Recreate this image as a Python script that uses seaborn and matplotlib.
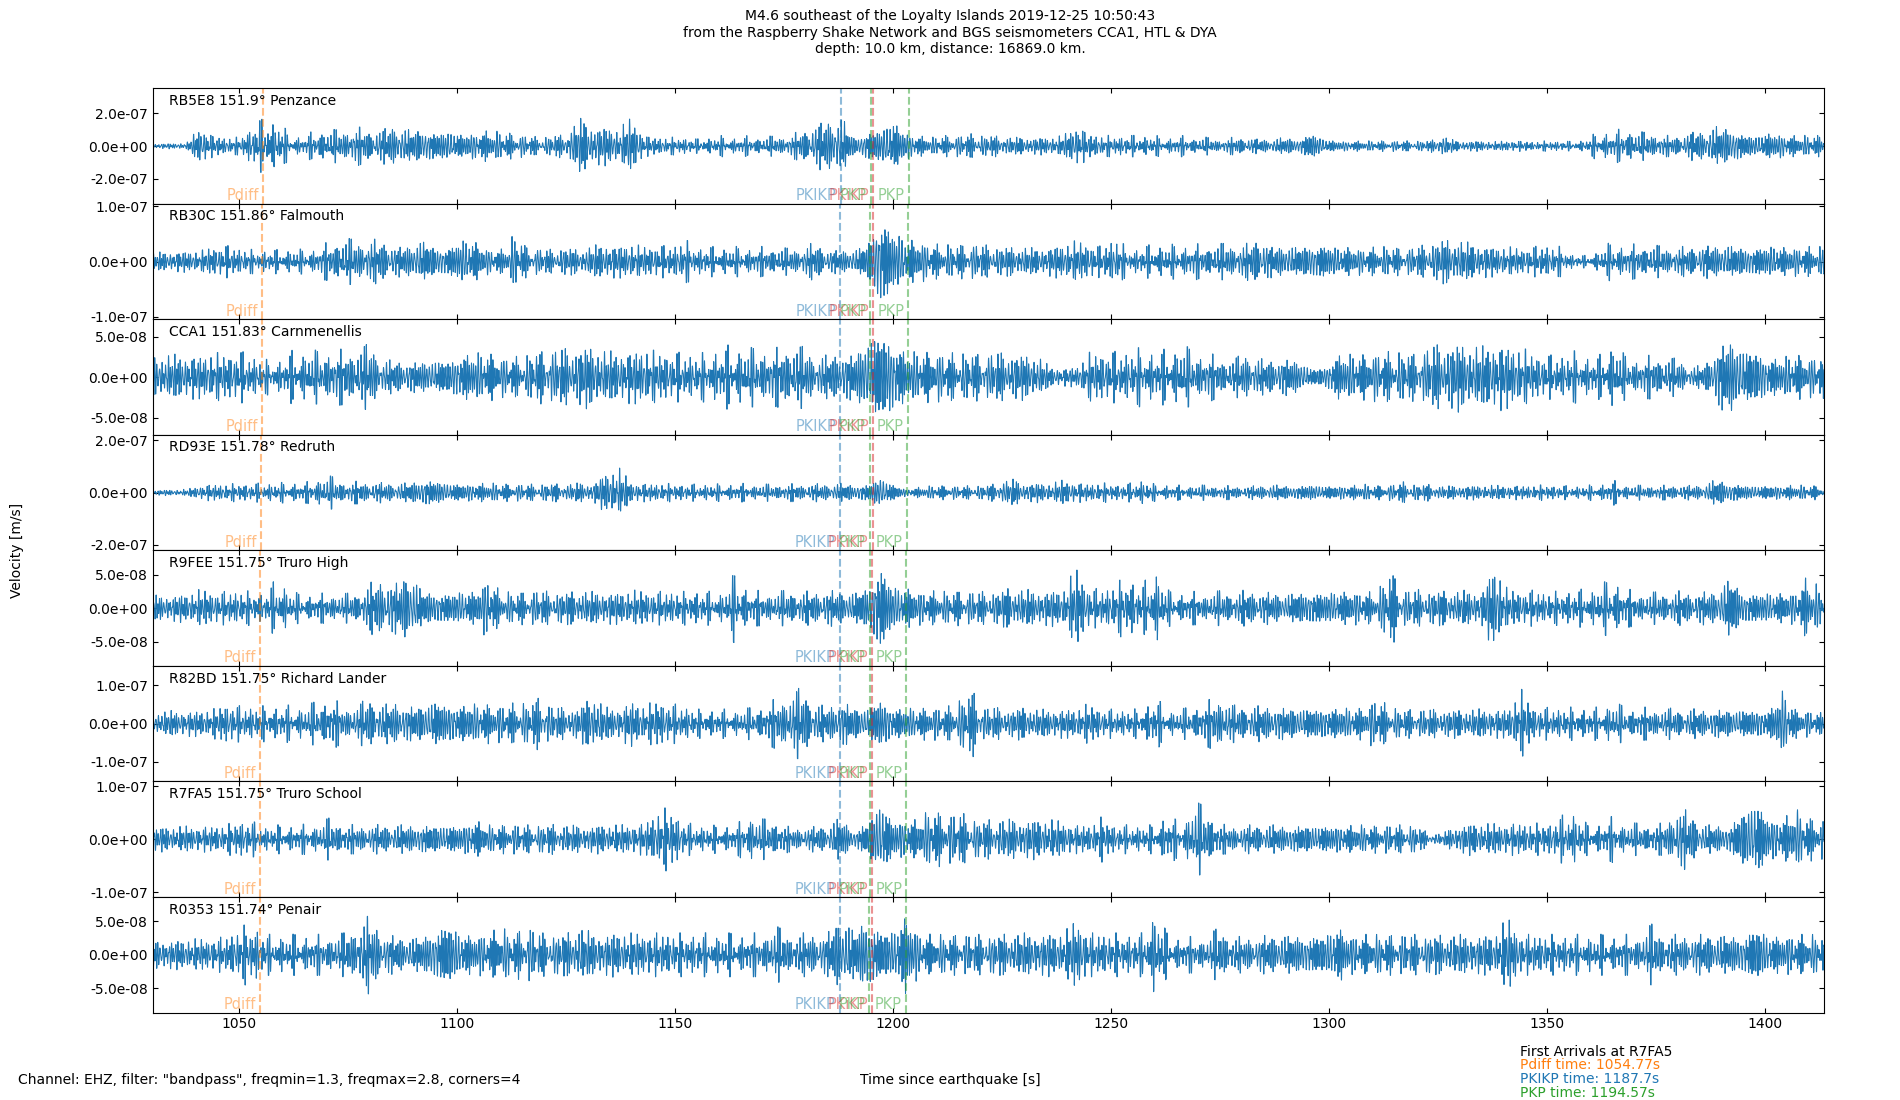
import numpy as np
import pandas as pd
import matplotlib
matplotlib.use("Agg")
import matplotlib.pyplot as plt
import seaborn as sns
from matplotlib.ticker import FormatStrFormatter

# ---------------- data ----------------
stations = ["RB5E8", "RB30C", "CCA1", "RD93E", "R9FEE", "R82BD", "R7FA5", "R0353"]
distances = [151.9, 151.86, 151.83, 151.78, 151.75, 151.75, 151.75, 151.74]
places = ["Penzance", "Falmouth", "Carnmenellis", "Redruth", "Truro High",
          "Richard Lander", "Truro School", "Penair"]

# arrival times [s] per station (dashed lines)
pdiff_times = [1055.40, 1055.23, 1055.10, 1054.90, 1054.77, 1054.77, 1054.77, 1054.73]
pkikp_times = [1187.95, 1187.88, 1187.83, 1187.75, 1187.70, 1187.70, 1187.70, 1187.68]
pkp_times = [1194.82, 1194.75, 1194.70, 1194.62, 1194.57, 1194.57, 1194.57, 1194.55]
pkikp_inner_times = [1195.45, 1195.38, 1195.33, 1195.25, 1195.20, 1195.20, 1195.20, 1195.18]
pkp2_times = [1203.60, 1203.45, 1203.33, 1203.13, 1203.00, 1203.00, 1203.00, 1202.96]

# first-arrival summary for R7FA5
summary_station = "R7FA5"
summary_pdiff = 1054.77
summary_pkikp = 1187.7
summary_pkp = 1194.57

# peak amplitude envelopes of each trace, units of 1e-8 m/s,
# one value every 3 s starting at 1029 s
env_start = 1029.0
env_step = 3.0
env_RB5E8 = [
    1.2, 1.5, 1.5, 2.0, 11, 6, 5, 5, 12, 16,
    14, 6, 6, 10, 9, 10, 11, 9, 10, 12,
    9, 10, 8, 9, 7, 8, 9, 8, 7, 6,
    5, 6, 7, 16, 12, 11, 10, 16, 6, 5,
    5, 5, 4, 5, 6, 5, 6, 5, 6, 6,
    9, 12, 15, 17, 5, 8, 10, 15, 8, 6,
    5, 6, 6, 7, 6, 6, 5, 5, 5, 5,
    6, 12, 7, 6, 6, 6, 6, 6, 5, 6,
    5, 5, 4, 5, 5, 4, 4, 5, 4, 8,
    4, 3, 3, 3, 3, 3, 3, 3, 3, 6,
    3, 3, 3, 2.5, 3, 3, 2.5, 3, 3, 2.5,
    4, 9, 8, 11, 8, 8, 6, 6, 8, 9,
    11, 11, 7, 6, 8, 7, 6, 6, 6, 6]
env_RB30C = [
    1.6, 1.6, 1.7, 1.8, 1.8, 2.5, 2.7, 2.3, 2.0, 2.0,
    2.0, 2.2, 2.0, 2.5, 3.5, 4.0, 3.5, 3.8, 3.5, 2.5,
    2.8, 3.7, 2.5, 2.5, 4.0, 3.5, 2.2, 2.0, 4.5, 2.5,
    2.2, 2.0, 2.5, 2.0, 2.7, 3.0, 2.7, 3.0, 2.5, 2.8,
    2.5, 3.8, 2.5, 2.5, 2.5, 2.5, 2.5, 2.5, 2.5, 2.2,
    2.5, 3.2, 2.0, 2.0, 2.0, 3.0, 8.2, 5.5, 4.0, 3.5,
    3.0, 2.8, 2.8, 3.0, 2.8, 2.5, 2.5, 2.5, 2.2, 2.5,
    3.0, 3.5, 3.0, 2.5, 4.3, 2.0, 2.5, 3.0, 2.8, 3.0,
    3.0, 2.8, 3.0, 3.0, 3.0, 4.1, 2.5, 2.8, 2.5, 3.0,
    3.0, 2.5, 2.5, 2.2, 2.5, 2.5, 2.2, 2.5, 3.0, 3.8,
    3.8, 3.2, 2.8, 2.5, 2.5, 2.2, 2.5, 2.8, 2.5, 1.2,
    1.0, 2.0, 3.5, 2.8, 3.0, 2.8, 2.5, 2.5, 2.5, 2.8,
    2.8, 2.8, 2.5, 2.5, 2.8, 2.5, 2.5, 2.5, 2.5, 2.5]
env_CCA1 = [
    2.5, 2.5, 2.6, 2.5, 2.5, 2.8, 2.7, 3.0, 2.5, 2.0,
    2.0, 3.0, 3.2, 3.0, 3.3, 3.1, 3.3, 3.8, 2.0, 1.9,
    1.8, 1.9, 2.0, 2.0, 2.8, 2.9, 2.8, 2.3, 2.3, 2.5,
    3.0, 3.2, 3.3, 3.5, 3.6, 3.0, 2.9, 3.0, 3.3, 2.9,
    2.8, 2.8, 2.6, 3.0, 3.5, 3.8, 3.3, 3.5, 3.3, 3.8,
    3.5, 2.5, 2.5, 2.8, 2.7, 4.5, 5.4, 4.4, 3.0, 3.0,
    2.8, 2.8, 2.7, 2.7, 2.7, 2.8, 2.8, 2.6, 2.5, 1.2,
    1.0, 1.2, 2.8, 2.9, 2.9, 3.0, 3.4, 3.0, 3.2, 3.8,
    3.0, 2.9, 2.2, 2.1, 2.8, 2.1, 2.0, 2.2, 2.0, 1.0,
    1.2, 2.8, 2.7, 2.6, 2.8, 2.9, 2.8, 2.7, 3.5, 3.9,
    4.0, 3.7, 3.5, 3.9, 3.6, 3.4, 2.7, 2.5, 2.5, 3.0,
    2.5, 2.5, 4.2, 2.4, 2.3, 2.5, 2.3, 2.1, 1.2, 1.4,
    3.5, 4.6, 3.3, 3.2, 2.3, 2.4, 2.6, 2.3, 2.5, 2.5]
env_RD93E = [
    0.8, 1.0, 1.0, 1.2, 2.5, 3.0, 3.0, 3.3, 3.2, 3.5,
    3.5, 3.8, 3.5, 5.5, 5.8, 4.0, 4.0, 3.8, 3.5, 3.3,
    3.5, 4.8, 4.5, 3.5, 3.2, 3.3, 3.5, 3.2, 3.0, 3.0,
    3.0, 3.3, 3.0, 3.5, 3.3, 7.0, 9.0, 3.5, 3.2, 3.3,
    3.2, 3.0, 3.0, 3.2, 3.0, 3.3, 3.2, 3.0, 3.0, 3.2,
    3.0, 3.2, 3.0, 3.3, 2.8, 3.0, 5.8, 3.0, 1.3, 2.0,
    2.5, 2.5, 2.3, 2.5, 2.5, 3.5, 5.0, 3.5, 3.5, 3.2,
    4.5, 3.5, 3.2, 3.5, 3.0, 3.2, 4.8, 3.0, 3.0, 2.6,
    2.8, 2.6, 2.6, 2.4, 2.3, 2.5, 2.8, 2.5, 2.5, 3.0,
    2.5, 2.5, 2.6, 3.0, 2.5, 2.8, 3.8, 2.8, 3.0, 2.3,
    2.5, 2.6, 2.5, 2.6, 2.5, 2.5, 2.6, 2.8, 2.5, 2.4,
    2.6, 3.0, 4.5, 3.0, 2.6, 2.8, 2.6, 2.8, 2.5, 3.0,
    4.8, 3.5, 2.8, 2.5, 2.6, 2.5, 2.8, 2.5, 2.5, 2.5]
env_R9FEE = [
    1.8, 1.8, 1.9, 2.0, 2.6, 2.3, 2.3, 2.5, 2.3, 2.2,
    4.5, 2.2, 2.0, 2.0, 2.2, 2.0, 2.2, 3.5, 4.2, 3.5,
    5.2, 2.5, 2.3, 2.2, 2.5, 2.4, 4.3, 2.3, 2.2, 2.3,
    2.5, 2.2, 2.3, 2.5, 2.3, 2.4, 2.2, 2.5, 2.4, 2.3,
    2.4, 2.3, 2.5, 2.3, 2.3, 5.2, 2.5, 2.4, 2.3, 2.5,
    2.4, 2.3, 2.5, 2.4, 2.2, 3.0, 6.5, 3.2, 3.0, 2.4,
    2.4, 2.3, 2.4, 2.3, 2.3, 2.4, 3.0, 2.6, 2.5, 2.5,
    2.6, 5.7, 2.8, 2.6, 3.5, 4.5, 3.0, 6.0, 2.5, 2.3,
    2.3, 2.2, 2.4, 2.3, 2.5, 2.3, 2.2, 2.0, 2.3, 2.4,
    2.3, 2.5, 2.4, 2.3, 2.2, 5.5, 2.5, 2.6, 2.4, 2.5,
    2.4, 2.5, 2.4, 6.2, 2.5, 2.4, 2.5, 2.2, 2.4, 2.6,
    2.6, 3.0, 4.5, 2.7, 2.3, 2.2, 2.3, 2.4, 2.2, 2.3,
    2.4, 4.5, 2.3, 2.2, 2.3, 2.2, 2.3, 4.7, 2.3, 2.3]
env_R82BD = [
    3.0, 3.0, 3.2, 3.0, 3.2, 3.5, 5.2, 4.3, 4.3, 4.3,
    4.3, 4.5, 4.3, 5.5, 6.5, 4.3, 4.5, 6.5, 4.5, 5.5,
    4.3, 4.5, 6.0, 4.8, 4.8, 5.0, 4.8, 4.5, 5.0, 5.0,
    6.5, 4.0, 3.9, 4.0, 7.4, 4.0, 3.9, 5.5, 4.3, 6.0,
    4.8, 4.5, 3.5, 3.5, 3.5, 3.5, 3.8, 4.5, 6.0, 7.4,
    8.7, 5.0, 4.0, 6.0, 4.0, 3.9, 6.5, 4.0, 3.9, 3.9,
    4.0, 3.9, 5.5, 8.3, 4.0, 3.9, 3.5, 4.2, 3.5, 3.5,
    3.5, 3.6, 5.0, 3.5, 3.5, 3.5, 3.6, 6.5, 3.5, 3.5,
    4.3, 5.5, 7.1, 4.5, 4.3, 4.3, 4.3, 3.9, 3.9, 3.9,
    3.9, 4.0, 3.9, 3.9, 6.5, 3.9, 3.5, 3.5, 3.5, 3.5,
    3.5, 3.5, 3.6, 3.5, 3.5, 8.4, 4.0, 3.9, 3.9, 4.0,
    3.9, 4.0, 5.5, 3.9, 4.0, 3.9, 3.9, 3.5, 3.6, 3.5,
    3.5, 3.5, 3.6, 3.5, 3.5, 8.3, 3.5, 3.2, 2.6, 2.6]
env_R7FA5 = [
    2.0, 2.2, 2.2, 2.3, 2.2, 2.3, 2.5, 3.5, 3.1, 2.3,
    2.5, 2.5, 2.6, 2.8, 3.8, 2.6, 2.5, 2.6, 2.5, 2.5,
    2.5, 2.6, 2.5, 2.6, 2.5, 3.5, 2.5, 2.5, 2.6, 2.5,
    2.5, 2.6, 2.5, 2.4, 2.5, 2.6, 2.5, 2.6, 2.8, 5.0,
    5.7, 3.0, 2.5, 2.4, 2.5, 2.5, 4.7, 3.5, 3.5, 2.2,
    2.2, 2.2, 2.5, 3.8, 1.6, 3.0, 7.0, 3.5, 3.5, 3.6,
    5.7, 3.8, 5.0, 3.5, 3.4, 3.5, 3.5, 3.6, 3.5, 3.5,
    3.0, 2.5, 2.5, 4.0, 2.5, 2.5, 2.5, 2.5, 4.7, 2.5,
    6.6, 5.5, 2.6, 2.5, 2.5, 2.5, 2.5, 2.4, 2.5, 2.5,
    2.5, 2.5, 2.5, 2.5, 2.4, 2.5, 2.5, 2.5, 1.0, 1.0,
    2.5, 2.8, 2.8, 2.7, 2.8, 2.8, 2.8, 2.8, 4.0, 5.0,
    2.8, 2.8, 4.0, 2.8, 2.8, 2.7, 2.8, 6.0, 4.4, 2.5,
    2.5, 2.5, 5.2, 7.2, 3.8, 3.8, 5.3, 3.8, 3.5, 3.5]
env_R0353 = [
    2.0, 2.2, 2.0, 2.2, 2.2, 2.3, 2.5, 3.8, 4.5, 2.8,
    2.8, 2.8, 2.9, 2.8, 2.8, 3.0, 4.2, 5.5, 3.0, 2.5,
    2.4, 2.6, 3.8, 4.6, 3.0, 3.0, 3.0, 3.8, 3.0, 4.0,
    3.0, 3.0, 3.0, 4.0, 3.0, 3.0, 3.1, 3.0, 3.0, 3.0,
    3.0, 3.0, 3.0, 3.0, 3.0, 3.0, 3.0, 3.0, 4.0, 3.0,
    3.0, 3.0, 3.0, 5.5, 3.5, 5.5, 3.5, 3.5, 6.0, 3.0,
    2.8, 2.8, 2.8, 2.8, 2.8, 2.9, 3.0, 3.0, 3.0, 3.0,
    3.0, 5.0, 3.0, 3.0, 3.0, 3.0, 3.0, 6.4, 2.8, 2.5,
    2.5, 2.5, 4.0, 2.5, 2.5, 2.6, 2.7, 2.8, 2.8, 2.8,
    2.8, 4.2, 2.8, 2.8, 2.8, 2.8, 2.8, 2.8, 2.8, 2.8,
    2.8, 2.8, 2.8, 2.8, 5.3, 2.8, 2.8, 2.8, 2.8, 2.8,
    2.8, 2.8, 2.8, 2.8, 2.8, 4.2, 2.8, 2.8, 2.8, 2.8,
    2.8, 2.8, 2.8, 4.0, 2.8, 2.8, 2.8, 2.8, 2.8, 2.8]
envelopes = [env_RB5E8, env_RB30C, env_CCA1, env_RD93E,
             env_R9FEE, env_R82BD, env_R7FA5, env_R0353]
env_unit = 1e-8

# ---------------- axis settings (style, not data) ----------------
y_limits = [3.54e-7, 1.045e-7, 7.13e-8, 2.21e-7, 8.66e-8, 1.51e-7, 1.09e-7, 8.66e-8]
y_tick_steps = [2e-7, 1e-7, 5e-8, 2e-7, 5e-8, 1e-7, 1e-7, 5e-8]
x_limits = (1030.2, 1413.5)

# pass band of the filter (from the footer): the waveform texture is drawn
# as a deterministic sum of tones inside 1.3-2.8 Hz, scaled by the envelopes
band_freqs = [1.34, 1.52, 1.71, 1.87, 2.04, 2.23, 2.41, 2.58, 2.76]

plt.rcParams['font.family'] = ['DejaVu Sans']
fig, axes = plt.subplots(8, 1, sharex=True, figsize=(19, 11), dpi=100)
fig.subplots_adjust(left=0.0805, right=0.96, top=0.9197, bottom=0.0795, hspace=0)

t = np.arange(x_limits[0], x_limits[1], 1 / 50)
env_times = env_start + env_step * np.arange(len(env_RB5E8))

phase_sets = [("Pdiff", pdiff_times, "#ff7f0e"),
              ("PKIKP", pkikp_times, "#1f77b4"),
              ("PKiKP", pkikp_inner_times, "#d62728"),
              ("PKP", pkp_times, "#2ca02c"),
              ("PKP", pkp2_times, "#2ca02c")]

golden = 2.399963
for i, ax in enumerate(axes):
    env = np.interp(t, env_times, np.asarray(envelopes[i], dtype=float) * env_unit)
    carrier = np.zeros_like(t)
    for k, f in enumerate(band_freqs):
        carrier += np.sin(2 * np.pi * f * t + golden * (k + 1) * (i + 3) + 0.37 * k * k)
    carrier = np.clip(carrier / carrier.std() * 0.48, -1.1, 1.1)
    df = pd.DataFrame({"time": t, "velocity": env * carrier})
    sns.lineplot(data=df, x="time", y="velocity", ax=ax, color="#1f77b4",
                 linewidth=0.75, estimator=None, errorbar=None, sort=False)
    ax.set_xlim(*x_limits)
    ax.set_ylim(-y_limits[i], y_limits[i])
    s = y_tick_steps[i]
    ax.set_yticks([-s, 0, s])
    ax.yaxis.set_major_formatter(FormatStrFormatter('%.1e'))
    ax.tick_params(direction='in', top=True, right=True, labelsize=10)
    ax.set_xlabel("")
    ax.set_ylabel("")

    for name, times, col in phase_sets:
        ax.axvline(times[i], color=col, linestyle='--', linewidth=1.5, alpha=0.5)
        ax.annotate(name, xy=(times[i], 0), xycoords=('data', 'axes fraction'),
                    xytext=(-4, 3.5), textcoords='offset pixels',
                    ha='right', va='baseline', color=col, alpha=0.5, fontsize=10.5)

    ax.text(0.0096, 0.952, f"{stations[i]} {distances[i]}° {places[i]}",
            transform=ax.transAxes, ha='left', va='top', fontsize=10)

fig.text(0.5, 0.9703,
         "M4.6 southeast of the Loyalty Islands 2019-12-25 10:50:43\n"
         "from the Raspberry Shake Network and BGS seismometers CCA1, HTL & DYA\n"
         "depth: 10.0 km, distance: 16869.0 km.",
         ha='center', va='center', fontsize=10)
fig.text(0.009, 0.5, "Velocity [m/s]", rotation=90, ha='center', va='center', fontsize=10)
fig.text(0.5, 0.01455, "Time since earthquake [s]", ha='center', va='baseline', fontsize=10)
fig.text(0.0095, 0.01455,
         'Channel: EHZ, filter: "bandpass", freqmin=1.3, freqmax=2.8, corners=4',
         ha='left', va='baseline', fontsize=10)

fig.text(0.8, 0.0400, f"First Arrivals at {summary_station}", ha='left', va='baseline',
         fontsize=10, color='black')
fig.text(0.8, 0.02773, f"Pdiff time: {summary_pdiff}s", ha='left', va='baseline',
         fontsize=10, color='#ff7f0e')
fig.text(0.8, 0.01545, f"PKIKP time: {summary_pkikp}s", ha='left', va='baseline',
         fontsize=10, color='#1f77b4')
fig.text(0.8, 0.00318, f"PKP time: {summary_pkp}s", ha='left', va='baseline',
         fontsize=10, color='#2ca02c')

fig.savefig("out.png", dpi=100)
